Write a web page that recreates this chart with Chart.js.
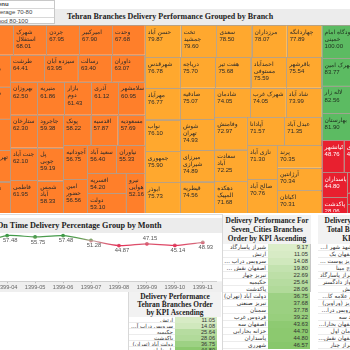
<!DOCTYPE html>
<html><head><meta charset="utf-8">
<script src="https://cdn.jsdelivr.net/npm/chart.js@4/dist/chart.umd.min.js"></script>
<style>
html,body{margin:0;padding:0;}
body{width:350px;height:350px;overflow:hidden;position:relative;background:#fff;font-family:"DejaVu Sans",sans-serif;}
.abs{position:absolute;}
.ttl{font-family:"Liberation Serif",serif;font-weight:bold;color:#222;white-space:nowrap;}
.tbl{position:absolute;overflow:hidden;}
.thead{background:#f2f2f2;text-align:center;font-family:"Liberation Serif",serif;font-weight:bold;color:#222;font-size:7.4px;white-space:nowrap;box-sizing:border-box;}
.trow{display:flex;box-sizing:border-box;}
.tname{box-sizing:border-box;direction:rtl;text-align:right;white-space:nowrap;overflow:hidden;text-overflow:ellipsis;color:#333;padding-right:2px;border-bottom:1px solid #ececec;font-family:"DejaVu Sans",sans-serif;}
.tval{box-sizing:border-box;text-align:right;white-space:nowrap;color:#333;padding-right:2px;font-family:"Liberation Sans",sans-serif;}
</style></head><body>

<div id="tmWrap" class="abs" style="left:-20px;top:25px;width:385px;height:188px;"><canvas id="tm"></canvas></div>

<div class="abs" style="left:0;top:9px;width:350px;height:16px;background:#ececec;"></div>
<div id="mainTitle" class="abs ttl" style="left:-10px;top:9px;width:360px;height:16px;line-height:16px;font-size:8px;text-align:center;"></div>

<div id="legend" class="abs" style="left:-12px;top:0;width:67px;height:24px;background:#fff;border:1px solid #c8c8c8;box-sizing:border-box;font-family:'Liberation Sans',sans-serif;font-size:6px;color:#444;"></div>

<div class="abs" style="left:0;top:214px;width:222px;height:1px;background:#ddd;"></div>
<div class="abs" style="left:-40px;top:218px;width:262px;height:15px;background:#ececec;"></div>
<div id="lineTitle" class="abs ttl" style="left:-3px;top:218px;height:15px;line-height:15px;font-size:8.2px;"></div>
<div id="lineWrap" class="abs" style="left:-40px;top:226px;width:262px;height:66px;"><canvas id="line"></canvas></div>
<div class="abs" style="left:222px;top:214px;width:1px;height:136px;background:#d8d8d8;"></div>
<div class="abs" style="left:128px;top:292px;width:1px;height:58px;background:#d8d8d8;"></div>

<div id="t2" class="tbl" style="left:223px;top:215px;width:88px;height:135px;"></div>
<div class="abs" style="left:310px;top:244px;width:1px;height:48px;background:#c8c8c8;"></div>
<div id="t3" class="tbl" style="left:318px;top:215px;width:96px;height:135px;"></div>
<div id="t4" class="tbl" style="left:129px;top:292px;width:92px;height:58px;"></div>

<script>
// ---------- data ----------
const legendLabels = ['Menu', 'Average 70-80', 'Good 80-100'];
const mainTitleText = 'Tehran Branches Delivery Performance Grouped by Branch';

const band6070Names = ['اسکان','شهرک استقلال','جردن','امیرکبیر','وحدت','شهرک ولیعصر','شاطره','ونک','تهرانپارس','تجریش','طرشت','سیزده آبان','رسالت','داوران','بهروزان','ستارخان','جنت آباد','فاطمی','منیریه','بازار دوم','آذری','اسلامشهر','جاجرود','پل چوبی','شمس آباد','پونک','اقدسیه','مسعودیه','آجودانیه','امین حضور','سعید آباد','نیاوران','افسریه','دولت','نیرو هوایی'];
const band6070Kpi = [68.45,68.01,67.95,67.90,67.68,67.29,66.89,65.80,65.50,65.12,64.41,63.95,63.40,63.07,62.50,62.30,62.10,61.95,61.86,61.43,61.12,60.95,59.38,59.19,58.33,58.22,57.87,57.69,56.75,56.56,56.40,55.33,54.20,53.10,52.16];

const band7080Names = ['حسن آباد','تخت جمشید','سعدی','مرزداران','چهاردانگه','شهرقدس','مهرآباد','نواب','جمهوری','ابوذر','دریاچه','هفت تیر','احمدآباد مستوفی','باقرشهر','صادقیه','شوش تهران','میرزای شیرازی','قیطریه','شادمان','شهرک غرب','شاد آباد','وفامنش','سعادت آباد','دهکده المپیک','آپادانا','عبدل آباد','نازی آباد','صالح آباد','پرند','آرژانتین','اکباتان'];
const band7080Kpi = [79.87,79.60,78.50,78.07,77.89,76.78,76.77,76.10,75.90,75.73,75.70,75.68,75.59,75.54,75.07,74.93,74.89,74.56,74.05,74.05,73.99,72.97,72.25,71.68,71.57,71.35,71.30,70.76,70.35,70.34,70.31];

const band80100Names = ['فرودگاه امام خمینی','شهرک امین','لاله زار','بهارستان'];
const band80100Kpi = [100.00,83.77,82.56,81.90];

const band050Names = ['کیانشهر','شهرری','پاسداران','پاکدشت','حکیمیه','سرویس دراب آف','ارتش'];
const band050Kpi = [48.76,46.57,44.80,28.06,25.64,14.08,11.05];

const lineTitleText = 'On Time Delivery Percentage Group by Month';
const months = ['1399-03','1399-04','1399-05','1399-06','1399-07','1399-08','1399-09','1399-10','1399-11'];
const onTimePct = [47.2,57.48,55.75,57.48,51.28,44.87,47.15,45.14,48.93];

const sevenTitle = ['Delivery Performance For','Seven_Cities Branches','Order by KPI Ascending'];
const sevenNames = ['شیراز پاسارگاد','ارتش','سرویس دراب آف فرودگاه','اصفهان نقش جهان','تبریز چهار','حکیمیه','پاکدشت','دولت آباد (تهران)','تبریز صنعتی','سمنان','فردوس غرب','اصفهان سه','خزانه بخارایی','پاسداران','شهرری'];
const sevenKpi = [9.17,11.05,14.08,19.80,22.69,25.64,28.06,36.75,37.68,37.78,39.22,43.63,44.70,44.80,46.57];

const totalTitle = ['Delivery Performance For','Total Branches Order by','KPI Ascending'];
const totalNames = ['مشهد شهر امام رضا','اصفهان یک','تبریز پوست جام','کرج مینا','شیراز پاسارگاد','اهواز دادگستر','ارتش','قم علامه کاشانی','تبریز (وراوین)','سرویس دراب آف فرودگاه','یزد سه','اصفهان بخارا دو','کرمان اول','اصفهان نقش جهان','شیراز چنار'];

const tehranTitle = ['Delivery Performance','Tehran Branches Order','by KPI Ascending'];
const tehranNames = ['ارتش','سرویس دراب آف فرودگاه','حکیمیه','پاکدشت','دولت آباد (تهران)','پاسداران'];
const tehranKpi = [11.05,14.08,25.64,28.06,36.75,44.80];

// ---------- styles ----------
const groupFill = ['#FF7F2A','#FFA82E','#5CBB62','#E8202F'];
const groupText = ['#2a2a2a','#2a2a2a','#1e2e1e','#ffffff'];

// ---------- header / legend ----------
document.getElementById('mainTitle').textContent = mainTitleText;
document.getElementById('lineTitle').textContent = lineTitleText;
const lg = document.getElementById('legend');
legendLabels.forEach((t,i)=>{
  const d = document.createElement('div');
  d.style.cssText = 'height:7.3px;line-height:7.3px;padding-left:4px;white-space:nowrap;' + (i<legendLabels.length-1 ? 'border-bottom:1px solid #d8d8d8;' : '') + (i===0 ? 'font-weight:bold;' : '');
  d.textContent = t;
  lg.appendChild(d);
});

// ---------- treemap (squarified layout through chart scales) ----------
function squarify(weights, rect){
  const total = weights.reduce((a,b)=>a+b,0);
  const k = rect.w*rect.h/total;
  const areas = weights.map(w=>w*k);
  const out = new Array(weights.length);
  const r = {x:rect.x,y:rect.y,w:rect.w,h:rect.h};
  let row = [];
  const worst = (rw, side)=>{
    const s = rw.reduce((a,i)=>a+areas[i],0);
    let mx=-Infinity, mn=Infinity;
    rw.forEach(i=>{mx=Math.max(mx,areas[i]);mn=Math.min(mn,areas[i]);});
    return Math.max(side*side*mx/(s*s), s*s/(side*side*mn));
  };
  const layout = (rw)=>{
    const s = rw.reduce((a,i)=>a+areas[i],0);
    if (r.w >= r.h){
      const cw = s/r.h; let yy = r.y;
      rw.forEach(i=>{const h=areas[i]/cw; out[i]={x:r.x,y:yy,w:cw,h:h}; yy+=h;});
      r.x += cw; r.w -= cw;
    } else {
      const rh = s/r.w; let xx = r.x;
      rw.forEach(i=>{const w=areas[i]/rh; out[i]={x:xx,y:r.y,w:w,h:rh}; xx+=w;});
      r.y += rh; r.h -= rh;
    }
  };
  for (let i=0;i<areas.length;i++){
    const side = Math.min(r.w, r.h);
    if (row.length===0 || worst(row.concat([i]),side) <= worst(row,side)) row.push(i);
    else { layout(row); row=[i]; }
  }
  if (row.length) layout(row);
  return out;
}

const tmGroups = [
  {names: band6070Names, values: band6070Kpi},
  {names: band7080Names, values: band7080Kpi},
  {names: band80100Names, values: band80100Kpi},
  {names: band050Names, values: band050Kpi}
];

function wrapWords(ctx, text, maxW){
  const words = text.split(' ');
  const lines = []; let cur = '';
  words.forEach(w=>{
    const t = cur ? cur + ' ' + w : w;
    if (ctx.measureText(t).width <= maxW || !cur) cur = t;
    else { lines.push(cur); cur = w; }
  });
  if (cur) lines.push(cur);
  return lines;
}

const treemapPlugin = {
  id: 'treemapDraw',
  afterDatasetsDraw(chart){
    const {ctx} = chart; const sx = chart.scales.x, sy = chart.scales.y;
    const X0 = sx.getPixelForValue(0), X1 = sx.getPixelForValue(1);
    const Y0 = sy.getPixelForValue(1), Y1 = sy.getPixelForValue(0);
    const gw = tmGroups.map(g=>g.values.reduce((a,b)=>a+b,0));
    const grects = squarify(gw, {x:X0,y:Y0,w:X1-X0,h:Y1-Y0});
    tmGroups.forEach((g,gi)=>{
      const cells = squarify(g.values, grects[gi]);
      cells.forEach((c,i)=>{
        ctx.save();
        ctx.fillStyle = groupFill[gi];
        ctx.fillRect(c.x, c.y, c.w, c.h);
        ctx.strokeStyle = 'rgba(170,160,150,0.8)';
        ctx.lineWidth = 1;
        ctx.strokeRect(Math.round(c.x)+0.5, Math.round(c.y)+0.5, Math.round(c.w), Math.round(c.h));
        ctx.beginPath(); ctx.rect(c.x+1, c.y+1, c.w-2, c.h-2); ctx.clip();
        if (c.w > 12 && c.h > 10){
          ctx.fillStyle = groupText[gi];
          ctx.font = '6px "DejaVu Sans"';
          ctx.textBaseline = 'top';
          ctx.textAlign = 'left';
          ctx.direction = 'rtl';
          const lines = wrapWords(ctx, g.names[i], c.w - 5);
          let yy = c.y + 4;
          lines.forEach(l=>{ ctx.fillText(l, c.x + 3, yy); yy += 7; });
          ctx.direction = 'ltr';
          ctx.font = '6px "Liberation Sans"';
          ctx.fillText(g.values[i].toFixed(2), c.x + 3, yy);
        }
        ctx.restore();
      });
    });
  }
};

new Chart(document.getElementById('tm'), {
  type: 'scatter',
  data: {datasets: [{data: [], showLine:false}]},
  options: {
    responsive: true, maintainAspectRatio: false, animation: false,
    layout: {padding: 0},
    plugins: {legend:{display:false}, tooltip:{enabled:false}, title:{display:false}},
    scales: {
      x: {type:'linear', min:0, max:1, display:false},
      y: {type:'linear', min:0, max:1, display:false}
    }
  },
  plugins: [treemapPlugin]
});

// ---------- line chart ----------
function lineGradient(ctx){
  const chart = ctx.chart; const ca = chart.chartArea;
  if (!ca) return '#4a9a4a';
  const y = chart.scales.y;
  const g = chart.ctx.createLinearGradient(0, y.getPixelForValue(57.5), 0, y.getPixelForValue(45));
  g.addColorStop(0, '#3f9a48');
  g.addColorStop(0.35, '#6da05a');
  g.addColorStop(0.55, '#c89a9a');
  g.addColorStop(1, '#e2385c');
  return g;
}
const xBandPlugin = {
  id: 'xBand',
  beforeDraw(chart){
    const x = chart.scales.x; const ctx = chart.ctx;
    ctx.save(); ctx.fillStyle = '#efefef';
    ctx.fillRect(0, x.top, chart.width, x.bottom - x.top);
    ctx.restore();
  }
};
const pointLabelPlugin = {
  id: 'ptLabels',
  afterDatasetsDraw(chart){
    const ctx = chart.ctx; const meta = chart.getDatasetMeta(0);
    const data = chart.data.datasets[0].data;
    ctx.save();
    ctx.font = '5.8px "Liberation Sans"'; ctx.fillStyle = '#555';
    ctx.textAlign = 'center'; ctx.textBaseline = 'middle';
    meta.data.forEach((pt,i)=>{
      const prev = data[i-1], next = data[i+1];
      const above = data[i] < 50 && prev !== undefined && next !== undefined && data[i] > prev && data[i] > next;
      ctx.fillText(data[i].toFixed(2), pt.x + 3, above ? pt.y - 5 : pt.y + 5);
    });
    ctx.restore();
  }
};
new Chart(document.getElementById('line'), {
  type: 'line',
  data: {labels: months, datasets: [{
    data: onTimePct, borderColor: lineGradient, backgroundColor: lineGradient,
    pointBackgroundColor: lineGradient, pointBorderColor: lineGradient,
    borderWidth: 1.2, pointRadius: 1.3, tension: 0.25, fill: false
  }]},
  options: {
    responsive: true, maintainAspectRatio: false, animation: false,
    layout: {padding: {left: 2, right: 3, top: 3, bottom: 0}},
    plugins: {legend:{display:false}, tooltip:{enabled:false}, title:{display:false}},
    scales: {
      x: {offset: true,
          grid: {display: true, drawOnChartArea: false, drawTicks: true, tickLength: 2, color: '#bbb'},
          border: {display: true, color: '#d0d0d0'},
          ticks: {font: {size: 5.6, family: 'Liberation Sans'}, color: '#666', padding: 1, maxRotation: 0, autoSkip: false}},
      y: {display: false, min: 0, max: 63}
    }
  },
  plugins: [xBandPlugin, pointLabelPlugin]
});

// ---------- tables ----------
function greenScale(v){
  const t = Math.max(0, Math.min(1, (v - 5) / 45));
  const a = [228,241,212], b = [128,196,98];
  return 'rgb(' + a.map((c,i)=>Math.round(c + (b[i]-c)*t)).join(',') + ')';
}
function buildTable(el, titleLines, titleH, lineH, names, values, nameW, valW, rowH, fontPx){
  const head = document.createElement('div');
  head.className = 'thead';
  head.style.height = titleH + 'px';
  head.style.lineHeight = lineH + 'px';
  head.style.paddingTop = '1px';
  head.innerHTML = titleLines.join('<br>');
  el.appendChild(head);
  names.forEach((n,i)=>{
    const r = document.createElement('div');
    r.className = 'trow';
    r.style.height = rowH + 'px';
    r.style.lineHeight = rowH + 'px';
    r.style.fontSize = fontPx + 'px';
    const a = document.createElement('div');
    a.className = 'tname'; a.style.width = nameW + 'px'; a.textContent = n;
    r.appendChild(a);
    const b = document.createElement('div');
    b.className = 'tval'; b.style.width = valW + 'px';
    if (values){ b.textContent = values[i].toFixed(2); b.style.background = greenScale(values[i]); }
    r.appendChild(b);
    el.appendChild(r);
  });
}
buildTable(document.getElementById('t2'), sevenTitle, 29, 9, sevenNames, sevenKpi, 45, 42, 7, 5.8);
buildTable(document.getElementById('t3'), totalTitle, 29, 9, totalNames, null, 40, 56, 7, 5.8);
buildTable(document.getElementById('t4'), tehranTitle, 25, 8, tehranNames, tehranKpi, 46, 42, 6, 5.6);
</script>
</body></html>
